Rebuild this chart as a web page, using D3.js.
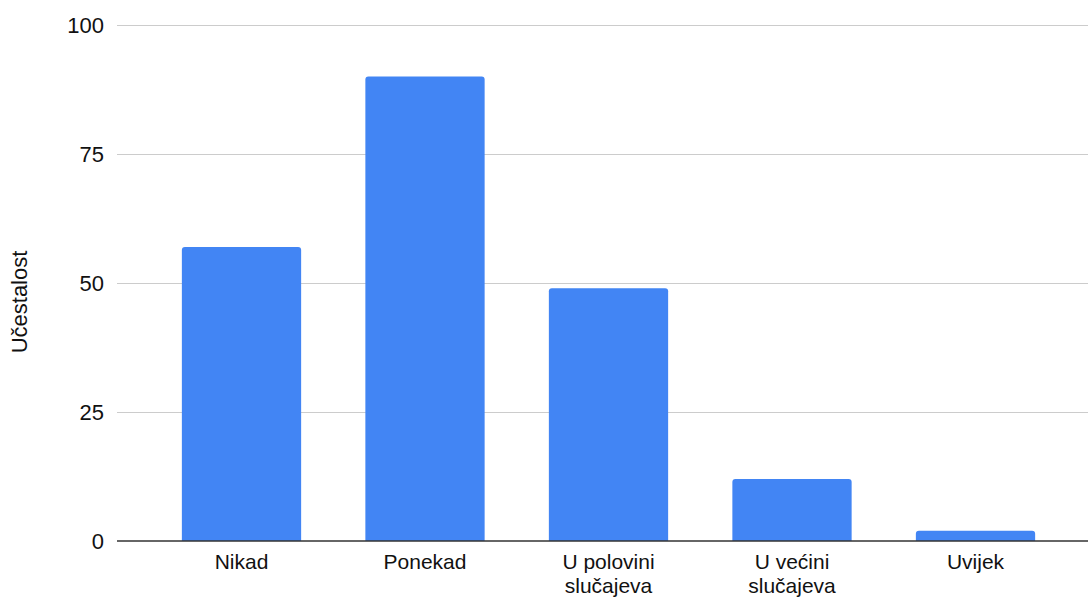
<!DOCTYPE html>
<html><head><meta charset="utf-8">
<script src="https://cdn.jsdelivr.net/npm/d3@7"></script>
<style>body{margin:0;background:#fff}svg{display:block}text{font-family:"Liberation Sans",Arial,sans-serif}</style>
</head><body>
<svg id="c" width="1088" height="597"></svg>
<script>
const categories = [["Nikad"],["Ponekad"],["U polovini","slučajeva"],["U većini","slučajeva"],["Uvijek"]];
const values = [57, 90, 49, 12, 2];
const yTicks = [0, 25, 50, 75, 100];
const yTitle = "Učestalost";

const svg = d3.select("#c");
const keys = categories.map(c => c.join(" "));
const x = d3.scaleBand().domain(keys).range([149.75, 1067.25]).paddingInner(0.35).paddingOuter(0.175);
const y = d3.scaleLinear().domain([0, 100]).range([541, 25]);
const gridL = 117, gridR = 1088;

svg.append("g").selectAll("line").data(yTicks.filter(t => t > 0)).join("line")
  .attr("x1", gridL).attr("x2", gridR)
  .attr("y1", d => Math.round(y(d)) + 0.5).attr("y2", d => Math.round(y(d)) + 0.5)
  .attr("stroke", "#cccccc").attr("stroke-width", 1);

svg.append("g").selectAll("text").data(yTicks).join("text")
  .attr("x", 104).attr("y", d => y(d)).attr("dy", "0.35em")
  .attr("text-anchor", "end").attr("font-size", 22).attr("fill", "#111")
  .text(d => d);

const r = 3;
svg.append("g").selectAll("path").data(values).join("path")
  .attr("fill", "#4285f4")
  .attr("d", (v, i) => {
    const x0 = x(keys[i]), x1 = x0 + x.bandwidth(), y0 = y(v), yb = y(0);
    return `M${x0},${yb}V${y0 + r}Q${x0},${y0} ${x0 + r},${y0}H${x1 - r}Q${x1},${y0} ${x1},${y0 + r}V${yb}Z`;
  });

svg.append("line").attr("x1", gridL).attr("x2", gridR).attr("y1", y(0)).attr("y2", y(0))
  .attr("stroke", "#333").attr("stroke-width", 1.5);

const labG = svg.append("g");
categories.forEach((lines, i) => {
  lines.forEach((ln, j) => {
    labG.append("text")
      .attr("x", x(keys[i]) + x.bandwidth() / 2)
      .attr("y", 569 + j * 23.5)
      .attr("text-anchor", "middle").attr("font-size", 21).attr("fill", "#111")
      .text(ln);
  });
});

svg.append("text").attr("transform", "translate(27,302) rotate(-90)")
  .attr("text-anchor", "middle").attr("font-size", 22).attr("fill", "#111").text(yTitle);
</script>
</body></html>
